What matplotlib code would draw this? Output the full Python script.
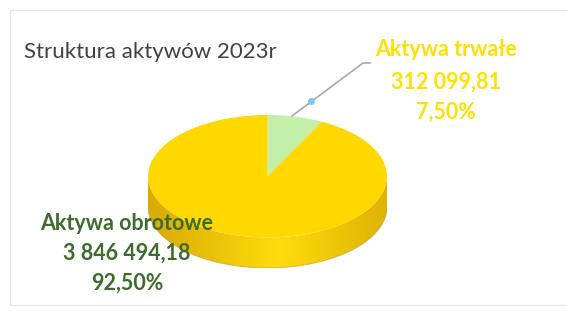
import numpy as np
import matplotlib.pyplot as plt
from matplotlib.patches import Polygon, Rectangle

# dane
labels = ["Aktywa trwałe", "Aktywa obrotowe"]
values = [312099.81, 3846494.18]
colors = ["#c3efa9", "#ffd800"]
text_colors = ["#ffe000", "#3f6b2e"]
title = "Struktura aktywów 2023r"


def fmt_pl(x):
    s = f"{x:,.2f}"
    return s.replace(",", " ").replace(".", ",")


total = sum(values)
shares = [v / total * 100 for v in values]

W, H = 567, 313
fig = plt.figure(figsize=(W / 100, H / 100), dpi=100)
plt.rcParams['font.family'] = ['Lato', 'DejaVu Sans']

# tlo i ramka w pikselach
bg = fig.add_axes([0, 0, 1, 1])
bg.set_xlim(0, W)
bg.set_ylim(H, 0)
bg.axis("off")
bg.add_patch(Rectangle((10, 10), 570, 295, fill=False, ec="#e6e6e6", lw=1))

# pie jako elipsa: osie obejmuja gorna powierzchnie + bok
x0, x1 = 148, 387
ytop, ybot = 115, 268
thick = 0.5  # grubosc boku w jednostkach polosi
ax = fig.add_axes([x0 / W, 1 - ybot / H, (x1 - x0) / W, (ybot - ytop) / H])
ax.set_xlim(-1, 1)
ax.set_ylim(-1 - thick, 1)
ax.set_aspect("auto")
ax.axis("off")

# bok walca (dolna polowa elipsy) z gradientem
t = np.linspace(np.pi, 2 * np.pi, 200)
xs = np.cos(t)
ys = np.sin(t)
side = np.concatenate([np.column_stack([xs, ys]),
                       np.column_stack([xs[::-1], ys[::-1] - thick])])
poly = Polygon(side, closed=True, fc="none", ec="none")
ax.add_patch(poly)
grad = np.linspace(0, 1, 256)
img = np.zeros((2, 256, 3))
c_dark = np.array([0.82, 0.64, 0.0])
c_light = np.array([1.0, 0.86, 0.05])
prof = np.clip(np.abs(grad - 0.55) * 1.6, 0, 1)
for i in range(256):
    img[:, i, :] = c_light * (1 - prof[i]) + c_dark * prof[i]
im = ax.imshow(img, extent=[-1, 1, -1 - thick, 0], aspect="auto", zorder=1)
im.set_clip_path(poly)
ax.plot(xs, ys - thick, color="#b89a3a", lw=0.8, alpha=0.5, zorder=2)

wedges, _ = ax.pie(values, colors=colors, startangle=90, counterclock=False,
                   radius=1, wedgeprops=dict(linewidth=0))
for w in wedges:
    w.set_zorder(3)
ax.set_xlim(-1, 1)
ax.set_ylim(-1 - thick, 1)
ax.set_aspect("auto")

# warstwa na teksty nad wykresem
top = fig.add_axes([0, 0, 1, 1])
top.set_xlim(0, W)
top.set_ylim(H, 0)
top.axis("off")
top.patch.set_alpha(0)

# linia odniesienia
top.plot([292, 363, 370], [116, 63, 63], color="#a8a8a8", lw=1.2)
top.plot([311], [101], marker="o", ms=4, color="#7fc3f0")

# teksty
fs = 15.5
top.text(24, 52, title, fontsize=16, color="#404040", ha="left", va="center")
top.text(446, 49, labels[0], fontsize=fs, color=text_colors[0],
         ha="center", va="center", fontweight="bold")
top.text(446, 82, fmt_pl(values[0]), fontsize=fs, color=text_colors[0],
         ha="center", va="center", fontweight="bold")
top.text(446, 112, f"{shares[0]:.2f}%".replace(".", ","), fontsize=fs,
         color=text_colors[0], ha="center", va="center", fontweight="bold")
top.text(127, 223, labels[1], fontsize=fs, color=text_colors[1],
         ha="center", va="center", fontweight="bold")
top.text(127, 253, fmt_pl(values[1]), fontsize=fs, color=text_colors[1],
         ha="center", va="center", fontweight="bold")
top.text(127, 283, f"{shares[1]:.2f}%".replace(".", ","), fontsize=fs,
         color=text_colors[1], ha="center", va="center", fontweight="bold")

fig.savefig("out.png", dpi=100, facecolor="white")
